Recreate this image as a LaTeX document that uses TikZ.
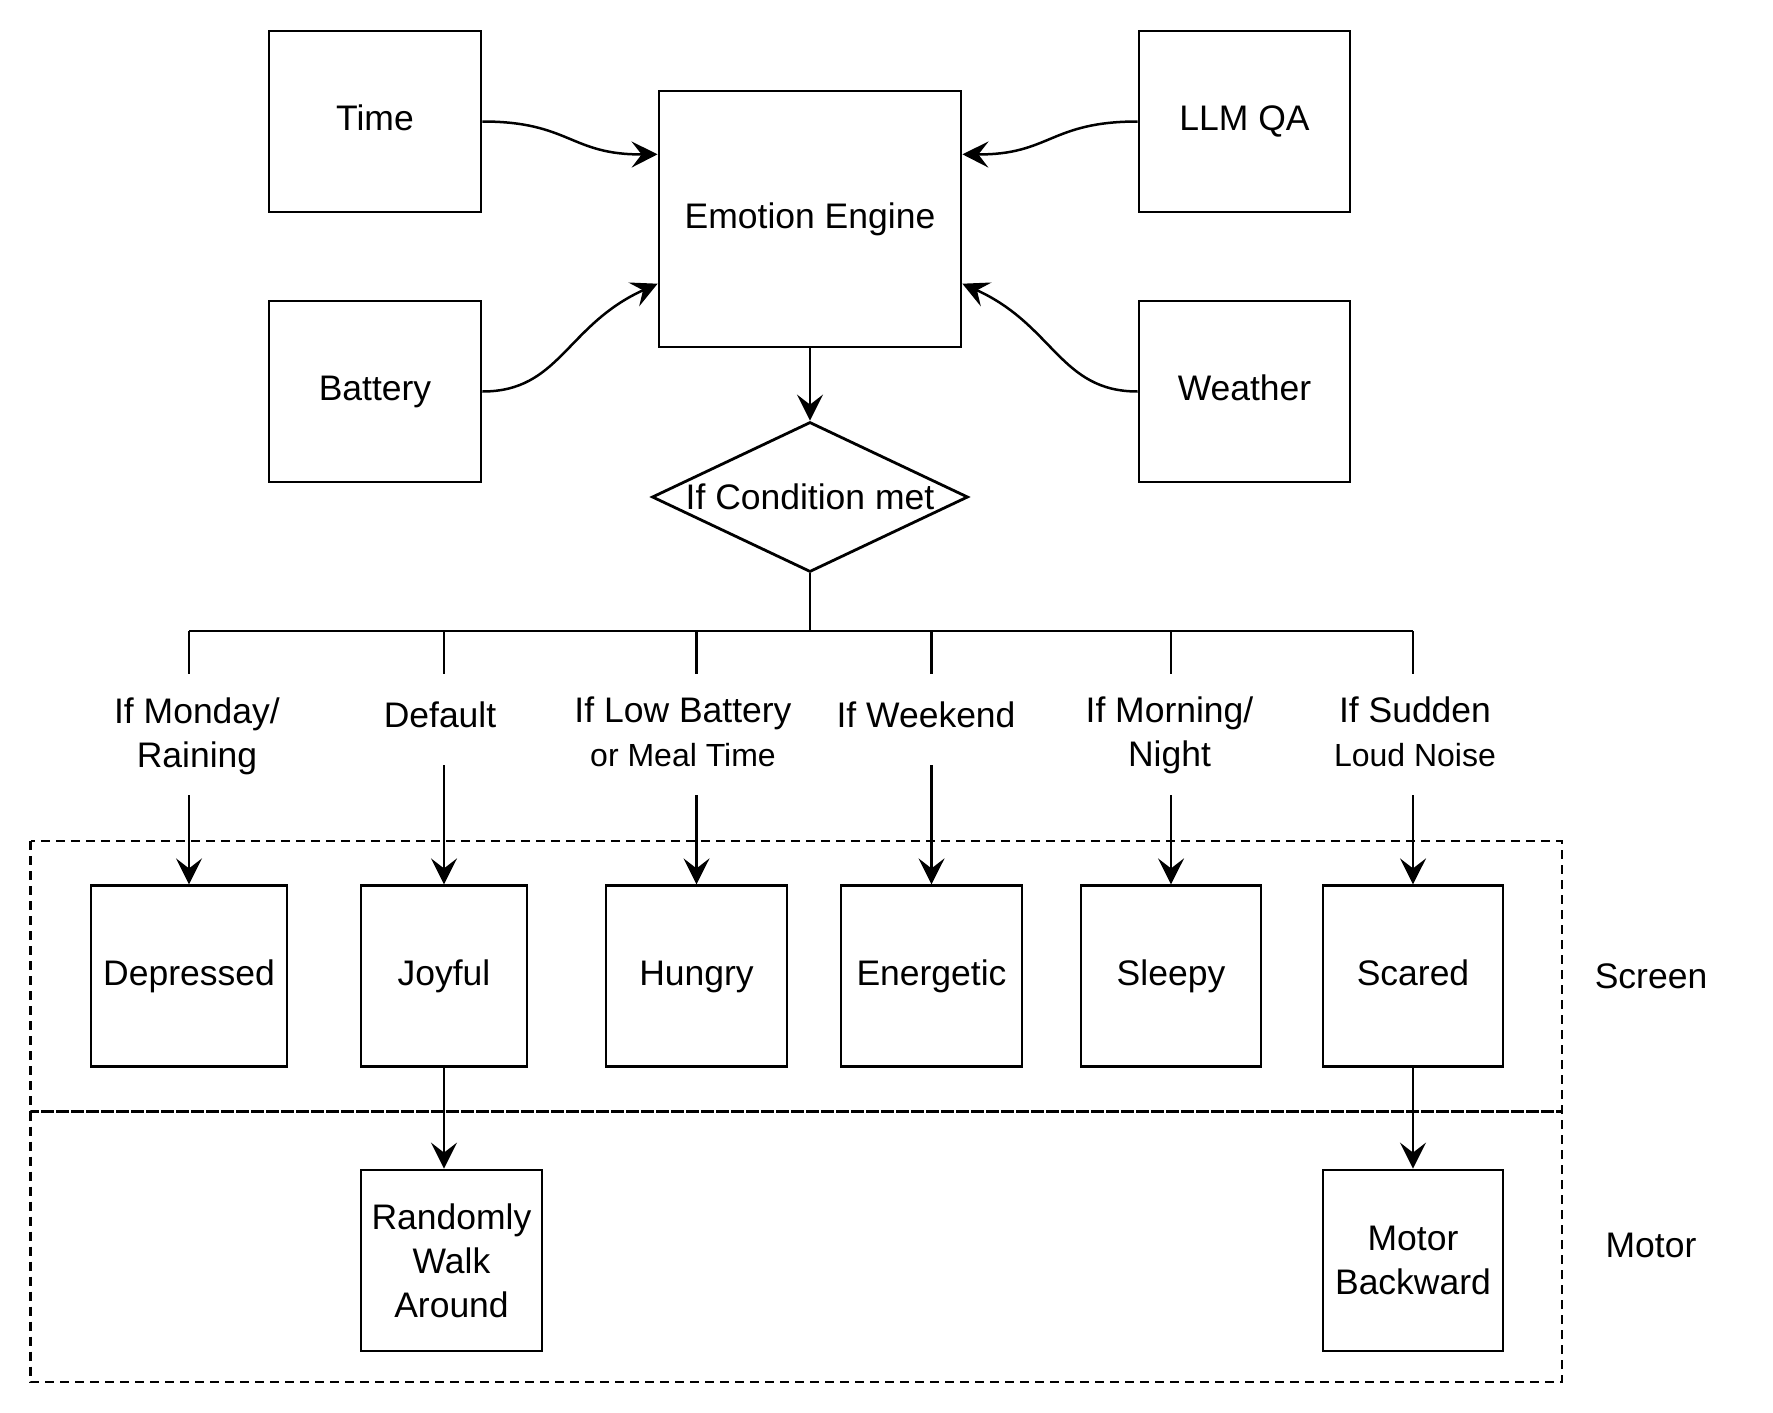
\documentclass[tikz,border=0pt]{standalone}
\usepackage{fontspec}
\setmainfont{Liberation Sans}
\usetikzlibrary{arrows.meta,shapes.geometric,calc}
\begin{document}
\begin{tikzpicture}[x=1pt,y=-1pt,
  every node/.style={font=\fontsize{35.5}{44}\selectfont},
  box/.style={draw, line width=2.8pt, inner sep=0pt, align=center, text height=25pt, text depth=7pt},
  mbox/.style={draw, line width=2.8pt, inner sep=0pt, align=center},
  conn/.style={line width=2.5pt},
  arr/.style={line width=2.5pt, -{Stealth[length=26pt,width=26pt,inset=10pt]}},
  zone/.style={draw, line width=2.5pt, dash pattern=on 9pt off 6pt},
  lab/.style={align=center},
  smalltext/.style={}
]
\useasboundingbox (0,0) rectangle (1773,1413);

% zones
\draw[zone] (30.5,841) rectangle (1562,1111.5);
\draw[zone] (30.5,1111.5) rectangle (1562,1382);
\node (screenlab) at (1651,976) {Screen};
\node (motorlab) at (1651,1245.5) {Motor};

% inputs
\node[box, minimum width=212pt, minimum height=181pt] (time) at (375,121.5) {Time};
\node[box, minimum width=211pt, minimum height=181pt] (llm) at (1244.5,121.5) {LLM QA};
\node[box, minimum width=212pt, minimum height=181pt] (battery) at (375,391.5) {Battery};
\node[box, minimum width=211pt, minimum height=181pt] (weather) at (1244.5,391.5) {Weather};
\node[box, minimum width=302pt, minimum height=256pt] (ee) at (810,219) {Emotion Engine};
\node[diamond, draw, line width=2.8pt, minimum width=316pt, minimum height=150pt, inner sep=0pt] (dia) at (810,497) {\makebox[0pt]{If Condition met}};

% emotion boxes
\node[box, minimum width=196pt, minimum height=181pt] (dep) at (189,976.3) {Depressed};
\node[box, minimum width=166pt, minimum height=181pt] (joy) at (444,976.3) {Joyful};
\node[box, minimum width=181pt, minimum height=181pt] (hun) at (696.5,976.3) {Hungry};
\node[box, minimum width=181pt, minimum height=181pt] (ene) at (931.5,976.3) {Energetic};
\node[box, minimum width=180pt, minimum height=181pt] (sle) at (1171,976.3) {Sleepy};
\node[box, minimum width=180pt, minimum height=181pt] (sca) at (1413,976.3) {Scared};
\node[mbox, minimum width=181pt, minimum height=181pt] (rwa) at (451.5,1260.5) {Randomly\\Walk\\Around};
\node[mbox, minimum width=180pt, minimum height=181pt] (mob) at (1413,1260.5) {Motor\\Backward};

% curved inputs
\draw[arr] (time.east) .. controls (570,121.5) and (570,155) .. ($(ee.north west)!0.25!(ee.south west)$);
\draw[arr] (battery.east) .. controls (560,391.5) and (566,325) .. ($(ee.north west)!0.75!(ee.south west)$);
\draw[arr] (llm.west) .. controls (1050,121.5) and (1050,155) .. ($(ee.north east)!0.25!(ee.south east)$);
\draw[arr] (weather.west) .. controls (1060,391.5) and (1054,325) .. ($(ee.north east)!0.75!(ee.south east)$);

\draw[arr] (ee.south) -- (dia.north);

% bus
\coordinate (bus) at (810,631);
\draw[conn] (dia.south) -- (bus);
\draw[conn] (dep.north |- bus) -- (sca.north |- bus);

% branch labels
\node[lab] (l1) at (197,736) {If Monday/\\Raining};
\node[lab] (l2) at (440,715.3) {Default};
\node[lab] (l3) at (683,731.7) {If Low Battery\\{\fontsize{32}{44}\selectfont or Meal Time}};
\node[lab] (l4) at (926,715.3) {If Weekend};
\node[lab] (l5) at (1169.5,735.8) {If Morning/\\Night};
\node[lab] (l6) at (1415,732) {If Sudden\\{\fontsize{32}{44}\selectfont Loud Noise}};

% stubs and arrows
\coordinate (t1) at (189,674);   \coordinate (a1) at (189,795);
\coordinate (t2) at (444,674);   \coordinate (a2) at (444,765);
\coordinate (t3) at (696.5,674); \coordinate (a3) at (696.5,795);
\coordinate (t4) at (931.5,674); \coordinate (a4) at (931.5,765);
\coordinate (t5) at (1171,674);  \coordinate (a5) at (1171,795);
\coordinate (t6) at (1413,674);  \coordinate (a6) at (1413,795);

\draw[conn] (dep.north |- bus) -- (t1); \draw[arr] (a1) -- (dep.north);
\draw[conn] (joy.north |- bus) -- (t2); \draw[arr] (a2) -- (joy.north);
\draw[conn] (hun.north |- bus) -- (t3); \draw[arr] (a3) -- (hun.north);
\draw[conn] (ene.north |- bus) -- (t4); \draw[arr] (a4) -- (ene.north);
\draw[conn] (sle.north |- bus) -- (t5); \draw[arr] (a5) -- (sle.north);
\draw[conn] (sca.north |- bus) -- (t6); \draw[arr] (a6) -- (sca.north);

% motor actions
\draw[arr] (joy.south) -- (joy.south |- rwa.north);
\draw[arr] (sca.south) -- (mob.north);
\end{tikzpicture}
\end{document}
